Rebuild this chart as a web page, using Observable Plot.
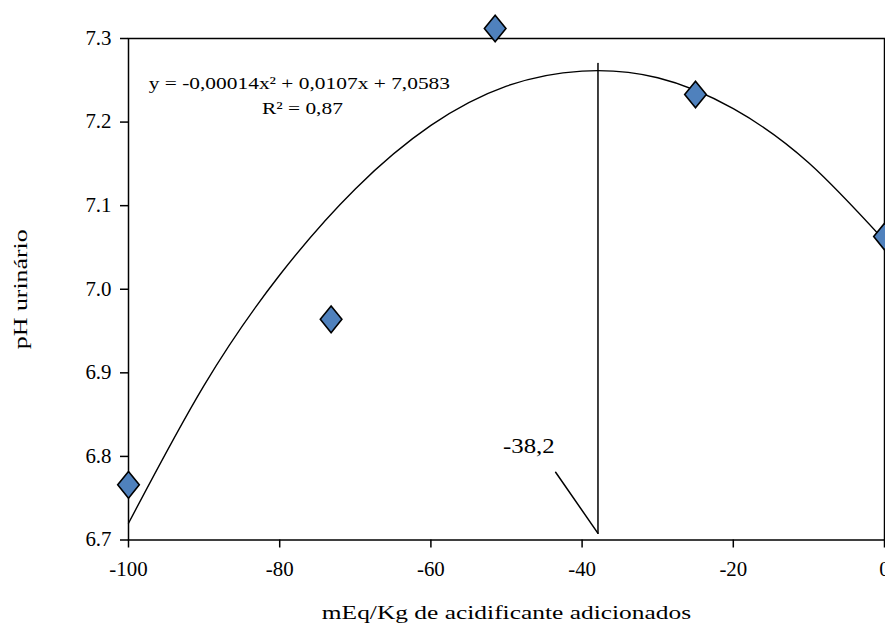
<!DOCTYPE html>
<html>
<head>
<meta charset="utf-8">
<script src="https://cdn.jsdelivr.net/npm/d3@7"></script>
<script src="https://cdn.jsdelivr.net/npm/@observablehq/plot@0.6"></script>
<style>
  html, body { margin: 0; padding: 0; background: #fff; }
  svg text { font-family: "Liberation Serif", "Times New Roman", serif !important; }
</style>
</head>
<body>
<div id="chart"></div>
<script>
// Observed data points (mEq/Kg, pH)
const doseX = [-100, -73.2, -51.5, -25, 0];
const phY = [6.766, 6.964, 7.312, 7.233, 7.063];

// Fitted trendline
const curveX = [-100, -90, -80, -70, -60, -50, -40, -30, -20, -10, 0];
const curveY = [6.72, 6.885, 7.017, 7.12, 7.196, 7.243, 7.261, 7.253, 7.216, 7.151, 7.058];

// Vertex marker line and leader line
const vertX = [-37.9, -37.9];
const vertY = [6.708, 7.270];
const leaderX = [-43.5, -37.9];
const leaderY = [6.781, 6.708];

// Tick values and labels
const xTicks = [-100, -80, -60, -40, -20, 0];
const yTicks = [6.7, 6.8, 6.9, 7.0, 7.1, 7.2, 7.3];

const eqText = "y = -0,00014x² + 0,0107x + 7,0583";
const r2Text = "R² = 0,87";
const vertexLabel = "-38,2";
const xTitle = "mEq/Kg de acidificante adicionados";
const yTitle = "pH urinário";

const points = doseX.map((x, i) => ({x, y: phY[i]}));
const curve = curveX.map((x, i) => ({x, y: curveY[i]}));
const vert = vertX.map((x, i) => ({x, y: vertY[i]}));
const leader = leaderX.map((x, i) => ({x, y: leaderY[i]}));

const diamond = {
  draw(ctx) {
    const w = 10.8, h = 13.3;
    ctx.moveTo(0, -h);
    ctx.lineTo(w, 0);
    ctx.lineTo(0, h);
    ctx.lineTo(-w, 0);
    ctx.closePath();
  }
};

const serif = "Liberation Serif, Times New Roman, serif";

const chart = Plot.plot({
  width: 885,
  height: 625,
  marginLeft: 128,
  marginRight: 1,
  marginTop: 38,
  marginBottom: 85.5,
  style: {fontFamily: serif, fontSize: "20px", color: "#000", background: "#fff", overflow: "visible"},
  x: {domain: [-100, 0]},
  y: {domain: [6.7, 7.3]},
  marks: [
    Plot.frame({stroke: "#000", strokeWidth: 1.5}),
    Plot.axisX({ticks: xTicks, tickFormat: d => String(d), tickSize: 8, tickPadding: 14, label: null, strokeWidth: 1.5, fontSize: 20, fontFamily: serif}),
    Plot.axisY({ticks: yTicks, tickFormat: d3.format(".1f"), tickSize: 8, tickPadding: 9, label: null, strokeWidth: 1.5, fontSize: 20, fontFamily: serif}),
    Plot.line(curve, {x: "x", y: "y", curve: "natural", stroke: "#000", strokeWidth: 1.4}),
    Plot.line(vert, {x: "x", y: "y", stroke: "#000", strokeWidth: 1.5}),
    Plot.line(leader, {x: "x", y: "y", stroke: "#000", strokeWidth: 1.5}),
    Plot.dot(points, {x: "x", y: "y", symbol: diamond, fill: "#4F81BD", stroke: "#000", strokeWidth: 1.6}),
    Plot.text([eqText], {x: -77.4, y: 7.2467, text: d => d, fontSize: 17, fontFamily: serif, textAnchor: "middle", lineAnchor: "middle", fill: "#000"}),
    Plot.text([r2Text], {x: -77.0, y: 7.2156, text: d => d, fontSize: 17, fontFamily: serif, textAnchor: "middle", lineAnchor: "middle", fill: "#000"}),
    Plot.text([vertexLabel], {x: -47.05, y: 6.812, text: d => d, fontSize: 22, fontFamily: serif, textAnchor: "middle", lineAnchor: "middle", fill: "#000"}),
    Plot.text([xTitle], {frameAnchor: "bottom", dy: 72.5, text: d => d, fontSize: 19.5, fontFamily: serif, textAnchor: "middle", lineAnchor: "middle", fill: "#000"}),
    Plot.text([yTitle], {frameAnchor: "left", dx: -108, rotate: -90, text: d => d, fontSize: 19.5, fontFamily: serif, textAnchor: "middle", lineAnchor: "middle", fill: "#000"})
  ]
});

// the original's serif text is drawn horizontally widened; reproduce that by
// stretching each text about its own anchor point (only the reading direction)
d3.select(chart).selectAll("text").each(function() {
  const t = this.textContent;
  let s = 1.045;
  if (t === eqText || t === r2Text) s = 1.26;
  else if (t === vertexLabel) s = 1.13;
  else if (t === xTitle) s = 1.305;
  else if (t === yTitle) s = 1.325;
  const xa = this.getAttribute("x");
  const x = xa !== null && !isNaN(+xa) ? +xa : 0;
  const T = this.getAttribute("transform") || "";
  if (xa !== null && !isNaN(+xa)) this.setAttribute("x", 0);
  this.setAttribute("transform", `${T} translate(${x},0) scale(${s},1)`);
  this.style.fontFamily = serif;
});

document.getElementById("chart").appendChild(chart);
</script>
</body>
</html>
